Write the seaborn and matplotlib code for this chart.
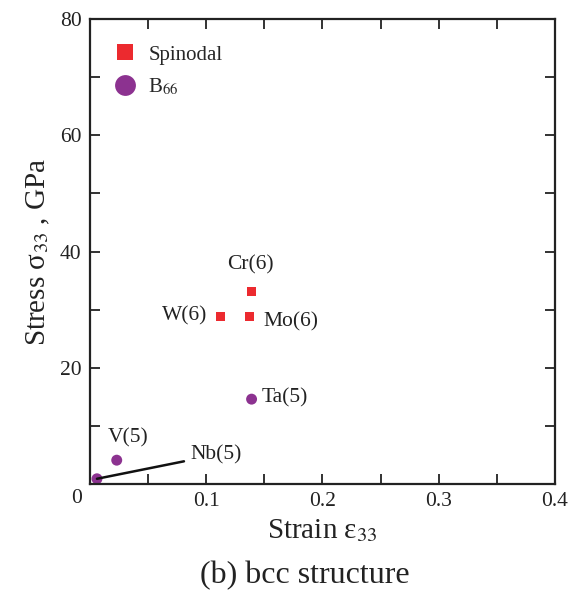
import matplotlib
matplotlib.use("Agg")
import matplotlib.pyplot as plt
from matplotlib.lines import Line2D
from matplotlib.ticker import MultipleLocator
import seaborn as sns
import pandas as pd

elements = ["Cr(6)", "Mo(6)", "W(6)", "Ta(5)", "V(5)", "Nb(5)"]
strain = [0.1385, 0.137, 0.1125, 0.139, 0.023, 0.006]
stress = [33.2, 28.8, 28.8, 14.6, 4.1, 0.9]
kind = ["Spinodal", "Spinodal", "Spinodal", "B66", "B66", "B66"]

xticks = [0, 0.1, 0.2, 0.3, 0.4]
xticklabels = ["", "0.1", "0.2", "0.3", "0.4"]
yticks = [0, 20, 40, 60, 80]
yticklabels = ["", "20", "40", "60", "80"]

df = pd.DataFrame({"element": elements, "strain": strain, "stress": stress, "kind": kind})

sns.set_theme(style="ticks")
plt.rcParams["font.family"] = ["Liberation Serif", "DejaVu Serif"]
plt.rcParams["mathtext.fontset"] = "stix"

red = "#ec2a2f"
purple = "#8c3290"
tc = "#222222"

fig = plt.figure(figsize=(5.87, 5.96), dpi=100)
ax = fig.add_axes([0.1533, 0.1879, 0.7922, 0.7802])

sns.scatterplot(data=df[df.kind == "Spinodal"], x="strain", y="stress", ax=ax,
                color=red, marker="s", s=42, edgecolor="none", legend=False)
sns.scatterplot(data=df[df.kind == "B66"], x="strain", y="stress", ax=ax,
                color=purple, marker="o", s=62, edgecolor="none", legend=False)

ax.set_xlim(0, 0.4)
ax.set_ylim(0, 80)
ax.set_xticks(xticks)
ax.set_xticklabels(xticklabels)
ax.set_yticks(yticks)
ax.set_yticklabels(yticklabels)
ax.xaxis.set_minor_locator(MultipleLocator(0.05))
ax.yaxis.set_minor_locator(MultipleLocator(10))
ax.tick_params(which="both", direction="in", top=True, right=True, length=7,
               width=1.3, color=tc, labelsize=15.5, labelcolor=tc, pad=6)
for sp in ax.spines.values():
    sp.set_linewidth(1.6)
    sp.set_color(tc)

# shared origin label
ax.text(-13 / 465, -14 / 465, "0", transform=ax.transAxes, ha="center", va="center",
        fontsize=15.5, color=tc)

ax.set_xlabel("Strain ε$_{33}$", fontsize=21, color=tc, labelpad=4)
ax.set_ylabel("Stress σ$_{33}$ , GPa", fontsize=21, color=tc, labelpad=6)

fs = 15.5
ax.text(0.138, 37.7, "Cr(6)", ha="center", va="center", fontsize=fs, color=tc)
ax.text(0.1006, 28.9, "W(6)", ha="right", va="center", fontsize=fs, color=tc)
ax.text(0.149, 27.9, "Mo(6)", ha="left", va="center", fontsize=fs, color=tc)
ax.text(0.148, 14.8, "Ta(5)", ha="left", va="center", fontsize=fs, color=tc)
ax.text(0.0327, 7.9, "V(5)", ha="center", va="center", fontsize=fs, color=tc)
ax.annotate("Nb(5)", xy=(0.006, 0.9), xytext=(0.086, 5.0), ha="left", va="center",
            fontsize=fs, color=tc,
            arrowprops=dict(arrowstyle="-", color="#111111", lw=1.8, shrinkA=2, shrinkB=0))

handles = [
    Line2D([], [], marker="s", color=red, linestyle="none", markersize=12, markeredgewidth=0),
    Line2D([], [], marker="o", color=purple, linestyle="none", markersize=15, markeredgewidth=0),
]
ax.legend(handles, ["Spinodal", "B$_{66}$"], loc="upper left", frameon=False,
          fontsize=15, bbox_to_anchor=(0.009, 0.984), handletextpad=0.5,
          labelspacing=0.55, handlelength=1.2)

fig.text(0.52, 0.035, "(b) bcc structure", ha="center", va="center", fontsize=23, color=tc)

fig.savefig("out.png", dpi=100)
